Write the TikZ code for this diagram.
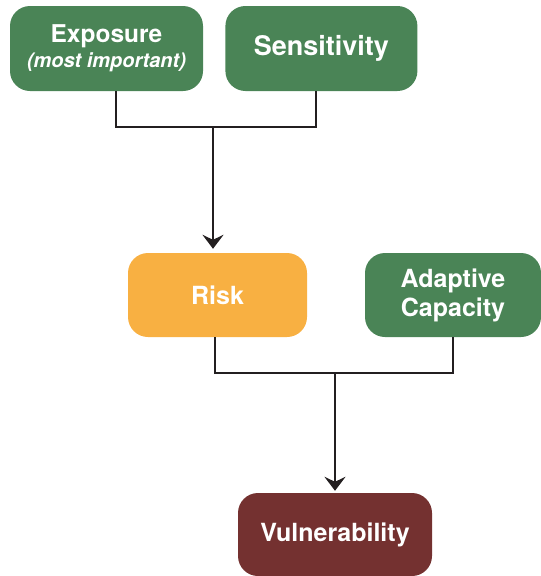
\documentclass[tikz,border=0pt]{standalone}
\usepackage{fontspec}
\setmainfont{TeX Gyre Heros}
\usetikzlibrary{positioning}
\usetikzlibrary{calc}
\usetikzlibrary{arrows.meta}

\definecolor{FactorGreen}{RGB}{74,132,86}
\definecolor{FactorOrange}{RGB}{248,176,66}
\definecolor{FactorMaroon}{RGB}{116,49,48}
\definecolor{LinkDark}{RGB}{35,31,32}

\begin{document}
\begin{tikzpicture}[
	x=1pt, y=1pt,
	factor/.style={
		rounded corners=20pt,
		text=white,
		align=center,
		inner sep=0pt,
		font=\bfseries\fontsize{25}{29}\selectfont
	},
	link/.style={draw=LinkDark, line width=2pt},
	linkarrow/.style={link, -{Stealth[length=14pt, width=21pt, inset=5pt]}}
	]
	\useasboundingbox (0,0) rectangle (541,-576);
	
	\node[
	factor,
	fill=FactorGreen,
	minimum width=193pt,
	minimum height=85pt
	] (Exposure) at (106.5,-48.5) {\fontsize{24.5}{27}\selectfont Exposure\\[-4pt]
		\fontsize{20}{22}\selectfont\itshape (most important)};
	
	% ---
	
	\node[
	factor,
	fill=FactorGreen,
	minimum width=192pt,
	minimum height=85pt,
	right=22pt of Exposure
	] (Sensitivity) {\fontsize{27}{30}\selectfont Sensitivity};
	
	% ---
	
	\node[
	factor,
	fill=FactorOrange,
	minimum width=179pt,
	minimum height=84pt
	] (Risk) at (217.5,-295) {Risk};
	
	\node[
	factor,
	fill=FactorGreen,
	minimum width=176pt,
	minimum height=84pt
	] (Adaptive) at (453,-295) {Adaptive\\Capacity};
	
	% ---
	
	\node[
	factor,
	fill=FactorMaroon,
	minimum width=194pt,
	minimum height=83pt
	] (Vulnerability) at (335,-534.5) {Vulnerability};
	
	\coordinate (TopJoin) at (213,-127);
	\coordinate (LowJoin) at (335,-373);
	
	\draw[link] ([xshift=9.5pt]Exposure.south) |- (TopJoin) -| ([xshift=-5pt]Sensitivity.south);
	\draw[linkarrow, shorten >=4pt] (TopJoin) -- (TopJoin |- Risk.north);
	
	\draw[link] ([xshift=-2.5pt]Risk.south) |- (LowJoin) -| (Adaptive.south);
	\draw[linkarrow, shorten >=2pt] (LowJoin) -- (Vulnerability.north);
\end{tikzpicture}
\end{document}
